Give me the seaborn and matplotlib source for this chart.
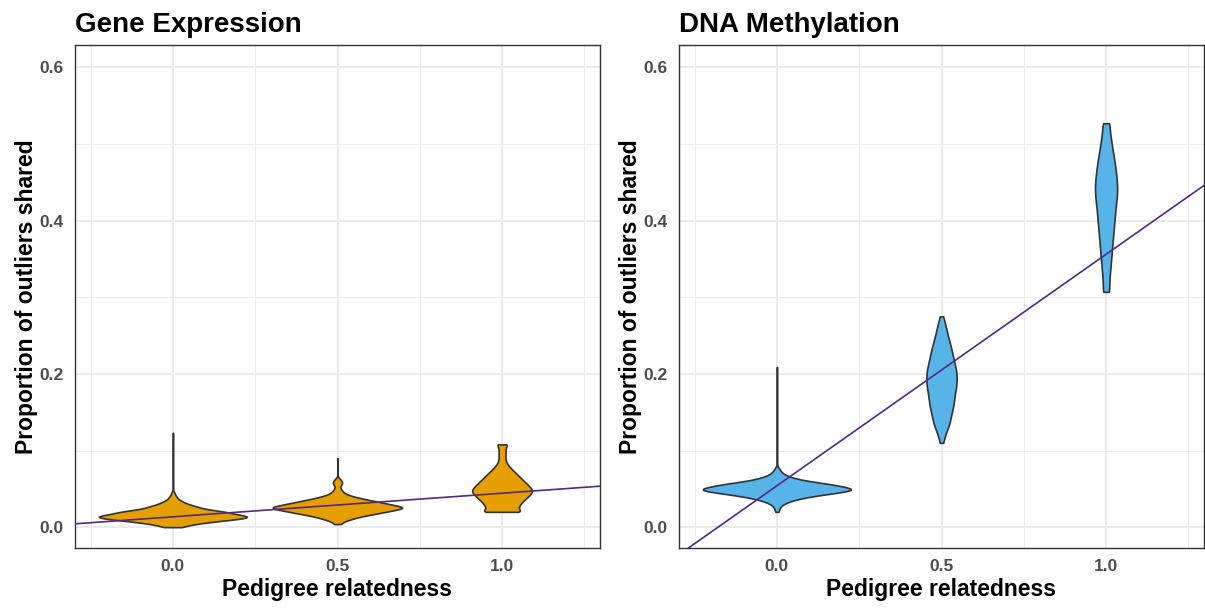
import numpy as np
import pandas as pd
import seaborn as sns
import matplotlib.pyplot as plt


# Pedigree relatedness groups
relatedness = [0.0, 0.5, 1.0]
tick_labels = ["0.0", "0.5", "1.0"]
y_ticks = [0.0, 0.2, 0.4, 0.6]
y_tick_labels = ["0.0", "0.2", "0.4", "0.6"]

# Proportion of outliers shared: observed values and how many pairs have each value
# Gene expression, relatedness 0.0
ge_00_vals = [0.000, 0.002, 0.004, 0.006, 0.008, 0.010, 0.012, 0.014, 0.016, 0.018,
              0.020, 0.022, 0.024, 0.026, 0.028, 0.030, 0.032, 0.034, 0.036, 0.038,
              0.040, 0.042, 0.044, 0.046, 0.050, 0.055, 0.060, 0.065, 0.070, 0.075,
              0.080, 0.085, 0.090, 0.095, 0.100, 0.105, 0.110, 0.115, 0.120, 0.123]
ge_00_counts = [30, 40, 65, 95, 135, 175, 215, 220, 195, 170,
                155, 120, 90, 76, 60, 45, 35, 25, 18, 13,
                10, 7, 5, 4, 1, 1, 1, 1, 1, 1,
                1, 1, 1, 1, 1, 1, 1, 1, 1, 1]
# Gene expression, relatedness 0.5
ge_05_vals = [0.004, 0.006, 0.008, 0.010, 0.012, 0.014, 0.016, 0.018, 0.020, 0.022,
              0.024, 0.026, 0.028, 0.030, 0.032, 0.034, 0.036, 0.038, 0.040, 0.042,
              0.044, 0.046, 0.048, 0.050, 0.052, 0.054, 0.056, 0.058, 0.060, 0.062,
              0.064, 0.068, 0.072, 0.076, 0.080, 0.084, 0.088, 0.090]
ge_05_counts = [10, 13, 22, 34, 48, 65, 85, 108, 130, 150,
                172, 180, 160, 140, 120, 100, 80, 60, 43, 30,
                20, 15, 12, 9, 7, 8, 11, 13, 12, 8,
                5, 1, 1, 1, 1, 1, 1, 1]
# Gene expression, relatedness 1.0
ge_10_vals = [0.020, 0.024, 0.028, 0.032, 0.036, 0.040, 0.044, 0.048, 0.052, 0.056,
              0.060, 0.064, 0.068, 0.072, 0.076, 0.080, 0.084, 0.088, 0.092, 0.096,
              0.100, 0.104, 0.108]
ge_10_counts = [74, 48, 55, 62, 72, 83, 93, 98, 90, 80,
                70, 60, 50, 40, 30, 21, 14, 11, 11, 11,
                11, 11, 20]

# DNA methylation, relatedness 0.0
dna_00_vals = [0.020, 0.022, 0.024, 0.026, 0.028, 0.030, 0.032, 0.034, 0.036, 0.038,
               0.040, 0.042, 0.044, 0.046, 0.048, 0.050, 0.052, 0.054, 0.056, 0.058,
               0.060, 0.062, 0.064, 0.066, 0.068, 0.070, 0.072, 0.074, 0.076, 0.078,
               0.082, 0.087, 0.092, 0.097, 0.102, 0.107, 0.112, 0.117, 0.122, 0.127,
               0.132, 0.137, 0.142, 0.147, 0.152, 0.157, 0.162, 0.167, 0.172, 0.177,
               0.182, 0.187, 0.192, 0.197, 0.202, 0.209]
dna_00_counts = [7, 5, 7, 9, 13, 19, 27, 40, 55, 75,
                 98, 125, 160, 190, 220, 222, 200, 180, 155, 125,
                 90, 68, 50, 35, 25, 17, 13, 10, 7, 5,
                 1, 1, 1, 1, 1, 1, 1, 1, 1, 1,
                 1, 1, 1, 1, 1, 1, 1, 1, 1, 1,
                 1, 1, 1, 1, 1, 1]
# DNA methylation, relatedness 0.5
dna_05_vals = [0.110, 0.115, 0.120, 0.125, 0.130, 0.135, 0.140, 0.145, 0.150, 0.155,
               0.160, 0.165, 0.170, 0.175, 0.180, 0.185, 0.190, 0.195, 0.200, 0.205,
               0.210, 0.215, 0.220, 0.225, 0.230, 0.235, 0.240, 0.245, 0.250, 0.255,
               0.260, 0.265, 0.270, 0.275]
dna_05_counts = [7, 9, 13, 17, 23, 28, 31, 33, 36, 40,
                 42, 44, 45, 47, 50, 52, 53, 53, 53, 51,
                 48, 45, 42, 39, 36, 33, 29, 26, 22, 19,
                 16, 13, 9, 7]
# DNA methylation, relatedness 1.0
dna_10_vals = [0.307, 0.317, 0.327, 0.337, 0.347, 0.357, 0.367, 0.377, 0.387, 0.397,
               0.407, 0.417, 0.427, 0.437, 0.447, 0.457, 0.467, 0.477, 0.487, 0.497,
               0.507, 0.517, 0.527]
dna_10_counts = [12, 9, 11, 13, 15, 17, 19, 21, 23, 25,
                 27, 29, 32, 34, 34, 32, 29, 26, 22, 18,
                 15, 11, 12]

# Linear fits (intercept, slope)
ge_fit = (0.0135, 0.0308)
dna_fit = (0.054, 0.302)


def expand(vals, counts, r):
    return pd.DataFrame({"relatedness": r, "shared": np.repeat(vals, counts)})


ge_df = pd.concat([expand(ge_00_vals, ge_00_counts, relatedness[0]),
                   expand(ge_05_vals, ge_05_counts, relatedness[1]),
                   expand(ge_10_vals, ge_10_counts, relatedness[2])], ignore_index=True)
dna_df = pd.concat([expand(dna_00_vals, dna_00_counts, relatedness[0]),
                    expand(dna_05_vals, dna_05_counts, relatedness[1]),
                    expand(dna_10_vals, dna_10_counts, relatedness[2])], ignore_index=True)

sns.set_theme(style="white")
plt.rcParams['font.family'] = ['Liberation Sans', 'DejaVu Sans']

fig = plt.figure(figsize=(12.05, 6.08), dpi=100)
ax1 = fig.add_axes([75 / 1205, 60 / 608, 525 / 1205, 503 / 608])
ax2 = fig.add_axes([679 / 1205, 60 / 608, 525 / 1205, 503 / 608])

panels = [(ax1, ge_df, "#E69F00", ge_fit, "Gene Expression"),
          (ax2, dna_df, "#56B4E9", dna_fit, "DNA Methylation")]

for ax, df, color, fit, title in panels:
    sns.violinplot(data=df, x="relatedness", y="shared", orient="x", native_scale=True,
                   width=0.9, density_norm="area", cut=0, inner=None, bw_method=0.14,
                   color=color, saturation=1, linecolor="#333333", linewidth=1.2, ax=ax)
    ax.axline((0, fit[0]), slope=fit[1], color="#542788", lw=1.2, zorder=4)

    ax.set_xlim(-0.2975, 1.2975)
    ax.set_ylim(-0.0272, 0.6291)
    ax.set_xticks(relatedness, tick_labels)
    ax.set_yticks(y_ticks, y_tick_labels)
    ax.set_xticks([-0.25, 0.25, 0.75, 1.25], minor=True)
    ax.set_yticks([0.1, 0.3, 0.5], minor=True)
    ax.set_axisbelow(True)
    ax.grid(which="major", color="#EBEBEB", lw=1.4)
    ax.grid(which="minor", color="#EBEBEB", lw=0.7)
    ax.tick_params(which="major", length=4, width=1, color="#333333", pad=4,
                   labelsize=12.5, labelcolor="#4D4D4D")
    ax.tick_params(which="minor", length=0)
    for lab in ax.get_xticklabels() + ax.get_yticklabels():
        lab.set_fontweight("bold")
    for sp in ax.spines.values():
        sp.set_color("#333333")
        sp.set_linewidth(1.0)

    ax.set_xlabel("Pedigree relatedness", fontsize=16.5, fontweight="bold", color="black", labelpad=3)
    ax.set_ylabel("Proportion of outliers shared", fontsize=16.5, fontweight="bold", color="black", labelpad=1.5)
    ax.set_title(title, loc="left", fontsize=20, fontweight="bold", color="black", pad=9)

fig.savefig("out.png", dpi=100)
